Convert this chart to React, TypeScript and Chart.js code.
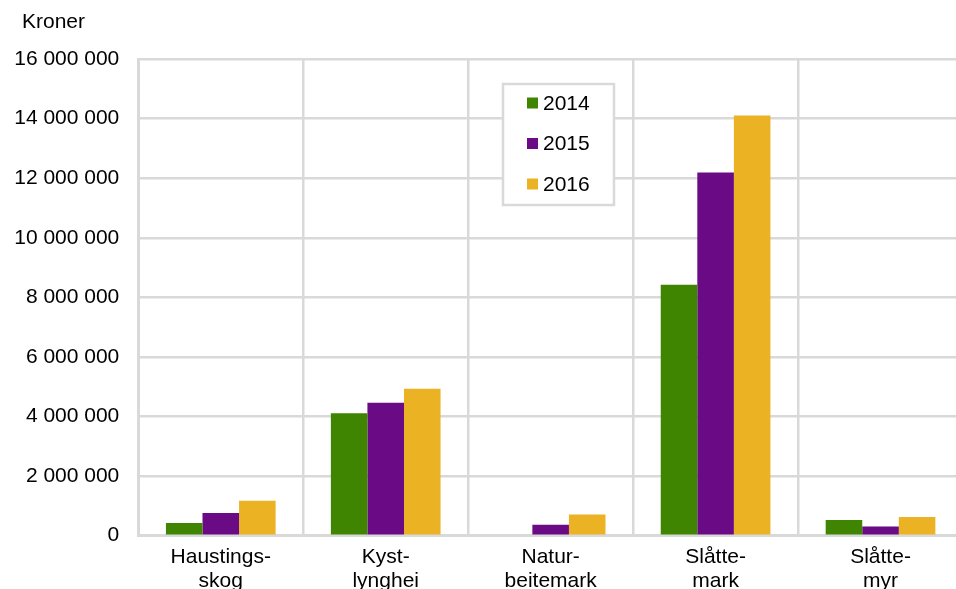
import React, { useEffect, useRef } from "react";
import { Chart, registerables } from "chart.js";

Chart.register(...registerables);

const categories: string[][] = [
  ["Haustings-", "skog"],
  ["Kyst-", "lynghei"],
  ["Natur-", "beitemark"],
  ["Slåtte-", "mark"],
  ["Slåtte-", "myr"],
];
const seriesLabels = ["2014", "2015", "2016"];
const values2014 = [430000, 4110000, 0, 8420000, 530000];
const values2015 = [760000, 4460000, 370000, 12190000, 310000];
const values2016 = [1170000, 4930000, 710000, 14100000, 630000];
const seriesColors = ["#3f8502", "#6a0a84", "#ebb323"];
const yMin = 0;
const yMax = 16000000;
const yStep = 2000000;
const yTitle = "Kroner";

const FONT = "'Liberation Sans', Arial, sans-serif";
const FS = 21;

function fmt(v: number): string {
  const s = Math.round(v).toString();
  return s.replace(/\B(?=(\d{3})+(?!\d))/g, " ");
}

const extrasPlugin = {
  id: "extras",
  afterDraw(chart: any) {
    const ctx = chart.ctx;
    ctx.save();
    ctx.fillStyle = "#000";
    ctx.font = `${FS}px ${FONT}`;
    ctx.textBaseline = "middle";
    ctx.textAlign = "left";
    ctx.fillText(yTitle, 22, 22);
    const bx = 503, by = 84, bw = 111, bh = 121;
    ctx.fillStyle = "#fff";
    ctx.fillRect(bx, by, bw, bh);
    ctx.strokeStyle = "#d9d9d9";
    ctx.lineWidth = 2.5;
    ctx.strokeRect(bx, by, bw, bh);
    chart.data.datasets.forEach((ds: any, i: number) => {
      const cy = 103 + i * 40.5;
      ctx.fillStyle = ds.backgroundColor;
      ctx.fillRect(527, cy - 5.5, 11, 11);
      ctx.fillStyle = "#000";
      ctx.textAlign = "left";
      ctx.textBaseline = "middle";
      ctx.fillText(ds.label, 543, cy + 1);
    });
    ctx.restore();
  },
};

export default function App() {
  const ref = useRef<HTMLCanvasElement>(null);
  useEffect(() => {
    if (!ref.current) return;
    const chart = new Chart(ref.current, {
      type: "bar",
      data: {
        labels: categories,
        datasets: [values2014, values2015, values2016].map((d, i) => ({
          label: seriesLabels[i],
          data: d,
          backgroundColor: seriesColors[i],
          borderWidth: 0,
          barPercentage: 1,
          categoryPercentage: 0.665,
        })),
      },
      options: {
        responsive: false,
        animation: false,
        maintainAspectRatio: false,
        layout: { padding: { left: 0, right: 17, top: 59, bottom: 0 } },
        plugins: { legend: { display: false }, tooltip: { enabled: false }, title: { display: false } },
        scales: {
          x: {
            grid: { color: "#d9d9d9", lineWidth: 2.5, drawTicks: false, offset: true },
            border: { color: "#d9d9d9", width: 3 },
            ticks: {
              color: "#000",
              font: { family: FONT, size: FS, lineHeight: 1.15 },
              padding: 9,
              maxRotation: 0,
              autoSkip: false,
            },
            afterFit(axis: any) {
              axis.height = 53.3;
            },
          },
          y: {
            min: yMin,
            max: yMax,
            grid: { color: "#d9d9d9", lineWidth: 2.5, drawTicks: false },
            border: { color: "#d9d9d9", width: 3 },
            ticks: {
              stepSize: yStep,
              color: "#000",
              font: { family: FONT, size: FS },
              padding: 19,
              callback: (v: any) => fmt(Number(v)),
            },
            afterFit(axis: any) {
              axis.width = 138.3;
            },
          },
        },
      },
      plugins: [extrasPlugin],
    } as any);
    return () => chart.destroy();
  }, []);
  return (
    <div style={{ position: "fixed", left: 0, top: 0, width: 956, height: 589, overflow: "hidden", background: "#fff" }}>
      <canvas ref={ref} width={980} height={589} style={{ display: "block", width: 980, height: 589 }} />
    </div>
  );
}
